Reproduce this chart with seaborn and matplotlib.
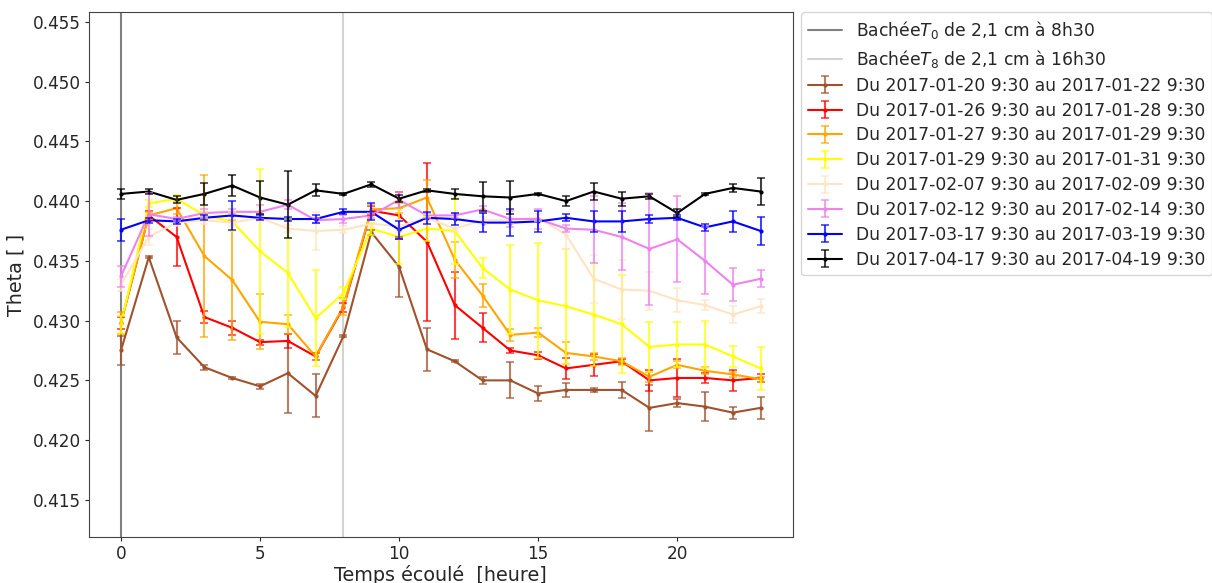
import numpy as np
import pandas as pd
import matplotlib
matplotlib.use("Agg")
import matplotlib.pyplot as plt
import seaborn as sns

hours = list(range(24))

labels = [
    "Du 2017-01-20 9:30 au 2017-01-22 9:30",
    "Du 2017-01-26 9:30 au 2017-01-28 9:30",
    "Du 2017-01-27 9:30 au 2017-01-29 9:30",
    "Du 2017-01-29 9:30 au 2017-01-31 9:30",
    "Du 2017-02-07 9:30 au 2017-02-09 9:30",
    "Du 2017-02-12 9:30 au 2017-02-14 9:30",
    "Du 2017-03-17 9:30 au 2017-03-19 9:30",
    "Du 2017-04-17 9:30 au 2017-04-19 9:30",
]
colors = ["sienna", "red", "orange", "yellow", "bisque", "violet", "blue", "black"]

theta_0120 = [0.4275, 0.4353, 0.4286, 0.4261, 0.4252, 0.4245, 0.4256, 0.4237, 0.4287, 0.4374, 0.4345, 0.4276,
              0.4266, 0.4250, 0.4250, 0.4239, 0.4242, 0.4242, 0.4242, 0.4227, 0.4231, 0.4228, 0.4223, 0.4227]
err_0120 = [0.0012, 0.0001, 0.0014, 0.0002, 0.0001, 0.0002, 0.0033, 0.0018, 0.0001, 0.0002, 0.0025, 0.0018,
            0.0001, 0.0003, 0.0015, 0.0006, 0.0006, 0.0002, 0.0007, 0.0019, 0.0003, 0.0012, 0.0005, 0.0009]

theta_0126 = [0.4298, 0.4388, 0.4370, 0.4303, 0.4294, 0.4282, 0.4283, 0.4270, 0.4311, 0.4392, 0.4388, 0.4366,
              0.4313, 0.4294, 0.4275, 0.4271, 0.4260, 0.4263, 0.4266, 0.4250, 0.4252, 0.4252, 0.4250, 0.4252]
err_0126 = [0.0005, 0.0004, 0.0024, 0.0005, 0.0006, 0.0002, 0.0006, 0.0003, 0.0004, 0.0004, 0.0020, 0.0066,
            0.0028, 0.0012, 0.0002, 0.0003, 0.0009, 0.0009, 0.0002, 0.0009, 0.0016, 0.0004, 0.0009, 0.0003]

theta_0127 = [0.4298, 0.4388, 0.4394, 0.4354, 0.4334, 0.4299, 0.4297, 0.4270, 0.4312, 0.4393, 0.4394, 0.4403,
              0.4351, 0.4321, 0.4288, 0.4290, 0.4273, 0.4270, 0.4266, 0.4253, 0.4263, 0.4258, 0.4255, 0.4251]
err_0127 = [0.0009, 0.0003, 0.0005, 0.0068, 0.0050, 0.0023, 0.0008, 0.0003, 0.0007, 0.0004, 0.0004, 0.0015,
            0.0015, 0.0010, 0.0005, 0.0004, 0.0009, 0.0003, 0.0003, 0.0004, 0.0003, 0.0003, 0.0002, 0.0002]

theta_0129 = [0.4297, 0.4398, 0.4402, 0.4388, 0.4383, 0.4358, 0.4340, 0.4302, 0.4323, 0.4377, 0.4370, 0.4377,
              0.4375, 0.4344, 0.4326, 0.4317, 0.4312, 0.4305, 0.4297, 0.4278, 0.4280, 0.4280, 0.4270, 0.4260]
err_0129 = [0.0007, 0.0003, 0.0003, 0.0003, 0.0008, 0.0069, 0.0045, 0.0040, 0.0005, 0.0005, 0.0023, 0.0010,
            0.0028, 0.0008, 0.0037, 0.0048, 0.0048, 0.0043, 0.0041, 0.0021, 0.0019, 0.0020, 0.0009, 0.0018]

theta_0207 = [0.4330, 0.4370, 0.4382, 0.4384, 0.4382, 0.4386, 0.4377, 0.4375, 0.4376, 0.4381, 0.4379, 0.4386,
              0.4377, 0.4384, 0.4384, 0.4386, 0.4372, 0.4335, 0.4326, 0.4325, 0.4317, 0.4313, 0.4305, 0.4312]
err_0207 = [0.0005, 0.0007, 0.0003, 0.0003, 0.0003, 0.0003, 0.0003, 0.0016, 0.0003, 0.0003, 0.0005, 0.0003,
            0.0003, 0.0003, 0.0003, 0.0003, 0.0012, 0.0020, 0.0025, 0.0016, 0.0010, 0.0004, 0.0007, 0.0006]

theta_0212 = [0.4337, 0.4389, 0.4385, 0.4390, 0.4391, 0.4391, 0.4397, 0.4384, 0.4385, 0.4388, 0.4401, 0.4388,
              0.4388, 0.4393, 0.4385, 0.4385, 0.4377, 0.4376, 0.4370, 0.4360, 0.4368, 0.4350, 0.4330, 0.4335]
err_0212 = [0.0009, 0.0018, 0.0002, 0.0003, 0.0002, 0.0006, 0.0004, 0.0002, 0.0003, 0.0002, 0.0007, 0.0002,
            0.0002, 0.0003, 0.0007, 0.0008, 0.0003, 0.0028, 0.0028, 0.0047, 0.0036, 0.0028, 0.0014, 0.0007]

theta_0317 = [0.4376, 0.4384, 0.4383, 0.4386, 0.4388, 0.4386, 0.4385, 0.4385, 0.4391, 0.4391, 0.4376, 0.4386,
              0.4385, 0.4382, 0.4382, 0.4383, 0.4386, 0.4383, 0.4383, 0.4385, 0.4386, 0.4378, 0.4383, 0.4375]
err_0317 = [0.0009, 0.0002, 0.0002, 0.0002, 0.0012, 0.0002, 0.0002, 0.0003, 0.0002, 0.0007, 0.00075, 0.0005,
            0.0005, 0.0008, 0.0011, 0.0009, 0.0003, 0.0009, 0.0009, 0.0003, 0.0002, 0.0003, 0.0009, 0.0012]

theta_0417 = [0.4406, 0.4408, 0.4401, 0.4406, 0.4413, 0.4403, 0.4397, 0.4409, 0.4406, 0.4414, 0.4402, 0.4409,
              0.4406, 0.4404, 0.4403, 0.4406, 0.4400, 0.4408, 0.4402, 0.4404, 0.4390, 0.4406, 0.4411, 0.4408]
err_0417 = [0.00045, 0.0002, 0.0003, 0.0009, 0.0009, 0.0014, 0.0028, 0.0005, 0.0001, 0.0002, 0.0003, 0.0001,
            0.0004, 0.0012, 0.0014, 0.0001, 0.0004, 0.0007, 0.0006, 0.0002, 0.0003, 0.0001, 0.0003, 0.0011]

series = [theta_0120, theta_0126, theta_0127, theta_0129, theta_0207, theta_0212, theta_0317, theta_0417]
errors = [err_0120, err_0126, err_0127, err_0129, err_0207, err_0212, err_0317, err_0417]

frames = []
for lab, vals, errs in zip(labels, series, errors):
    frames.append(pd.DataFrame({"heure": hours, "theta": vals, "err": errs, "periode": lab}))
df = pd.concat(frames, ignore_index=True)

sns.set_style("ticks")
plt.rcParams["font.family"] = ["DejaVu Sans"]

fig = plt.figure(figsize=(12.12, 5.83), dpi=100)
ax = fig.add_axes([0.0734, 0.079, 0.5806, 0.900])

# cover placement reference lines
v0 = ax.axvline(0, color="grey", lw=1.5, label="Bachée$T_0$ de 2,1 cm à 8h30")
v8 = ax.axvline(8, color="lightgray", lw=1.5, label="Bachée$T_8$ de 2,1 cm à 16h30")

sns.lineplot(data=df, x="heure", y="theta", hue="periode", palette=dict(zip(labels, colors)),
             marker="o", markersize=3, markeredgewidth=0, linewidth=1.5, legend=False, ax=ax)

handles = [v0, v8]
series_lines = [l for l in ax.get_lines() if l not in (v0, v8)]
for lab, col, line in zip(labels, colors, series_lines):
    sub = df[df["periode"] == lab]
    eb = ax.errorbar(sub["heure"], sub["theta"], yerr=sub["err"], fmt="none",
                     ecolor=col, elinewidth=1.5, capsize=3, capthick=1.2, alpha=0.75)
    handles.append((line, eb))

ax.set_xlim(-1.15, 24.15)
ax.set_ylim(0.4119, 0.4558)
ax.set_xticks([0, 5, 10, 15, 20])
ax.set_yticks(np.arange(0.415, 0.4551, 0.005))
ax.tick_params(labelsize=12.2, length=3, pad=3)
ax.set_xlabel("Temps écoulé  [heure]", fontsize=13.8, labelpad=1)
ax.set_ylabel("Theta [ ]", fontsize=13.8, labelpad=5)
for s in ax.spines.values():
    s.set_color("#444444")

ax.legend(handles, [h.get_label() for h in handles[:2]] + labels,
          loc="upper left", bbox_to_anchor=(1.012, 1.0), borderaxespad=0,
          fontsize=12.3, labelspacing=0.4, frameon=True, handlelength=2.0)

fig.savefig("out.png", dpi=100)
